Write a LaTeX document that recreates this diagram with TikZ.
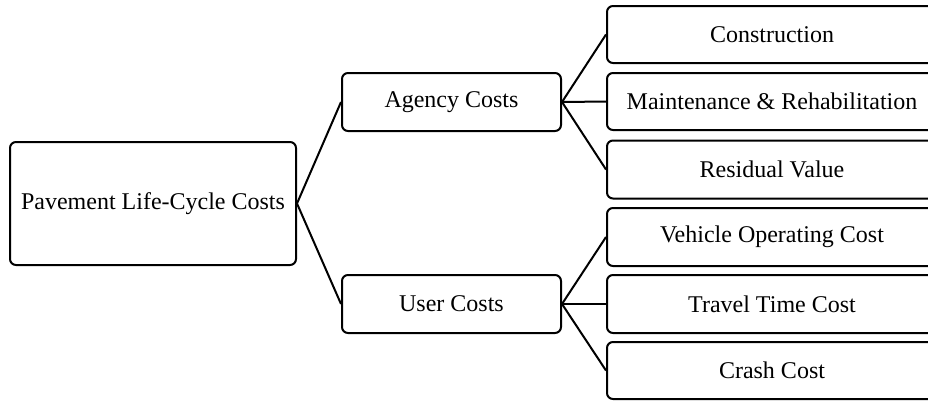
\documentclass[tikz,border=0pt]{standalone}
\usepackage{fontspec}
\setmainfont{Liberation Serif}
\begin{document}
\begin{tikzpicture}[x=1pt,y=-1pt,
  box/.style={draw=black, line width=2pt, rounded corners=6pt, fill=white, inner sep=0pt, font=\fontsize{24}{28}\selectfont},
  conn/.style={line width=2pt, black}]
\clip (0,0) rectangle (928,400);
\fill[white] (0,0) rectangle (928,400);
\node[box, minimum width=286pt, minimum height=123pt] (root) at (153,203.5) {Pavement Life-Cycle Costs};
\node[box, minimum width=219pt, minimum height=58pt] (agency) at (451.5,102) {Agency Costs};
\node[box, minimum width=219pt, minimum height=58pt] (user) at (451.5,304) {User Costs};
\node[box, minimum width=330pt, minimum height=57pt] (c1) at (772,34.5) {Construction};
\node[box, minimum width=330pt, minimum height=57pt] (c2) at (772,101.5) {Maintenance \& Rehabilitation};
\node[box, minimum width=330pt, minimum height=58pt] (c3) at (772,169.5) {Residual Value};
\node[box, minimum width=330pt, minimum height=58pt] (u1) at (772,237) {Vehicle Operating Cost};
\node[box, minimum width=330pt, minimum height=58pt] (u2) at (772,304) {Travel Time Cost};
\node[box, minimum width=330pt, minimum height=57pt] (u3) at (772,370.5) {Crash Cost};
\draw[conn] (root.east) -- (agency.west);
\draw[conn] (root.east) -- (user.west);
\foreach \t in {c1,c2,c3} \draw[conn] (agency.east) -- (\t.west);
\foreach \t in {u1,u2,u3} \draw[conn] (user.east) -- (\t.west);
\end{tikzpicture}
\end{document}
